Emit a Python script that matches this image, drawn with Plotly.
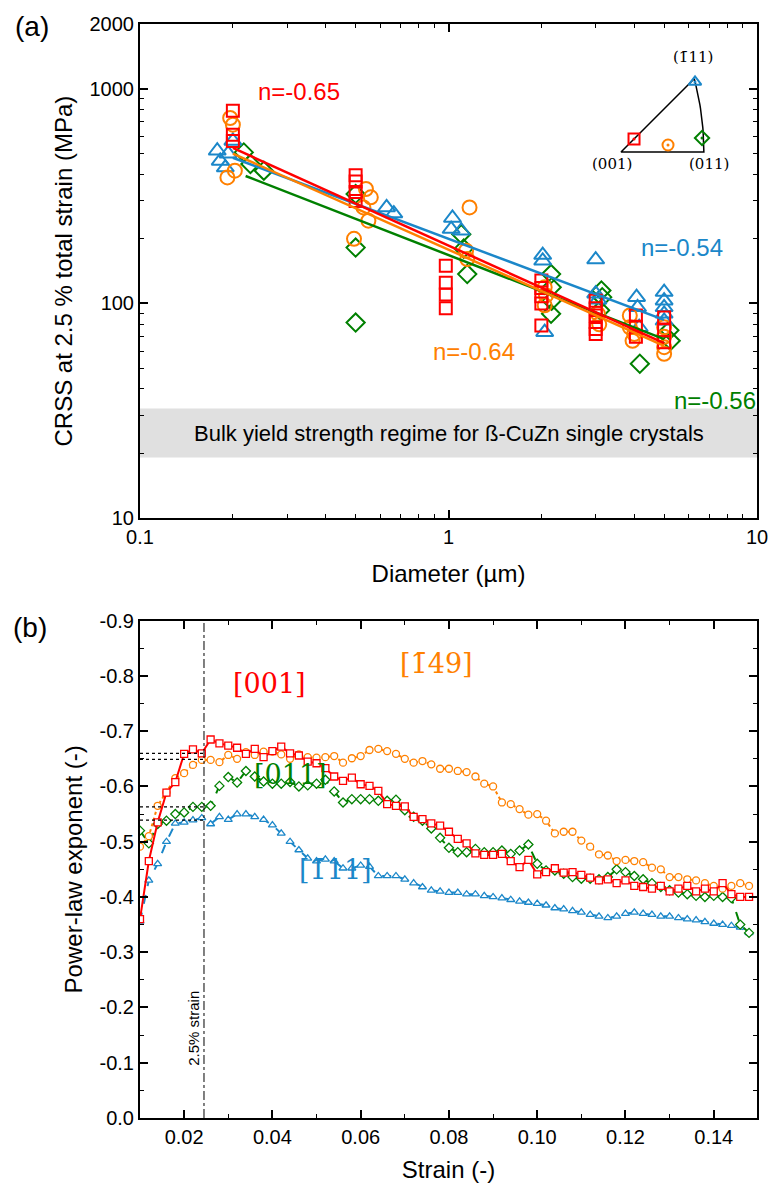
import math
import plotly.graph_objects as go

# ---------------- colours ----------------
RED = "#FF0000"
ORANGE = "#FF8000"
BLUE = "#1B87C9"
GREEN = "#008000"

# ---------------- panel (a): CRSS vs pillar diameter ----------------
d_001 = [0.2, 0.2, 0.2, 0.5, 0.5, 0.5, 0.5, 0.98, 0.98, 0.98, 0.98,
         2.0, 2.0, 2.0, 2.0, 2.0, 3.0, 3.0, 3.0, 3.0, 3.0, 3.0,
         4.05, 4.05, 4.05, 5.0, 5.0, 5.0]
crss_001 = [790, 610, 570, 395, 370, 330, 300, 150, 125, 110, 95,
            128, 118, 108, 100, 79, 103, 95, 88, 82, 76, 72,
            88, 78, 70, 86, 75, 66]

d_149 = [0.196, 0.2, 0.192, 0.203, 0.494, 0.54, 0.56, 0.53, 0.55,
         1.17, 1.14, 1.15, 2.05, 2.07, 2.05, 3.05, 3.08,
         3.87, 3.87, 4.0, 3.95, 5.0, 5.0, 5.0, 5.0]
crss_149 = [730, 680, 386, 415, 200, 341, 312, 280, 243,
            280, 176, 161, 119, 109, 98, 89.5, 80,
            88, 77.5, 72, 67, 77.5, 70, 62.6, 58.3]

d_111 = [0.178, 0.182, 0.189, 0.2, 0.193, 0.63, 0.665,
         1.03, 1.02, 1.1, 2.02, 2.02, 2.05, 3.0, 3.0, 3.05,
         4.07, 4.1, 4.15, 5.0, 5.0, 5.0, 5.0, 5.0]
crss_111 = [514, 461, 429, 571, 498, 280, 262,
            250, 222, 218, 168, 158, 73.5, 160, 111, 104,
            107, 96, 77.5, 113, 103, 96, 89.5, 83]

d_011 = [0.217, 0.228, 0.252, 0.5, 0.5, 0.5, 1.1, 1.12, 1.15,
         2.15, 2.16, 2.16, 2.15, 3.13, 3.15, 3.1, 4.17, 5.2, 5.25]
crss_011 = [505, 446, 415, 323, 182, 81.5, 210, 180, 137,
            137, 119, 103, 89.5, 115, 107, 93, 52.4, 75, 67]

# power-law fits  CRSS = A * d^n  (exponent, prefactor, diameter span)
fit_001 = (-0.65, 186, [0.2, 5.0])
fit_149 = (-0.64, 178, [0.2, 5.0])
fit_111 = (-0.54, 200, [0.2, 5.0])
fit_011 = (-0.56, 168, [0.22, 5.0])

# label positions (diameter, CRSS)
lab_001 = (0.327, 975)
lab_149 = (1.21, 60)
lab_111 = (5.7, 182)
lab_011 = (7.3, 35.4)

bulk_band = [19.2, 32.4]

# inverse pole figure inset (stereographic coordinates)
ipf_001 = (0.065, 0.065)
ipf_149 = (0.235, 0.035)
ipf_011 = (0.405, 0.07)
ipf_111 = (0.37, 0.35)

# ---------------- panel (b): power-law exponent vs strain ----------------
strain = [0.010, 0.012, 0.014, 0.016, 0.018, 0.020, 0.022, 0.024, 0.026, 0.028,
          0.030, 0.032, 0.034, 0.036, 0.038, 0.040, 0.042, 0.044, 0.046, 0.048,
          0.050, 0.052, 0.054, 0.056, 0.058, 0.060, 0.062, 0.064, 0.066, 0.068,
          0.070, 0.072, 0.074, 0.076, 0.078, 0.080, 0.082, 0.084, 0.086, 0.088,
          0.090, 0.092, 0.094, 0.096, 0.098, 0.100, 0.102, 0.104, 0.106, 0.108,
          0.110, 0.112, 0.114, 0.116, 0.118, 0.120, 0.122, 0.124, 0.126, 0.128,
          0.130, 0.132, 0.134, 0.136, 0.138, 0.140, 0.142, 0.144, 0.146, 0.148]

n_001 = [-0.360, -0.465, -0.535, -0.589, -0.608, -0.659, -0.667, -0.660, -0.685, -0.678,
         -0.674, -0.670, -0.659, -0.668, -0.653, -0.664, -0.672, -0.660, -0.656, -0.645,
         -0.642, -0.633, -0.618, -0.610, -0.616, -0.604, -0.601, -0.592, -0.568, -0.565,
         -0.564, -0.545, -0.541, -0.533, -0.529, -0.518, -0.505, -0.497, -0.479, -0.476,
         -0.476, -0.478, -0.465, -0.454, -0.467, -0.441, -0.445, -0.452, -0.444, -0.445,
         -0.440, -0.435, -0.430, -0.432, -0.425, -0.430, -0.420, -0.418, -0.415, -0.420,
         -0.410, -0.415, -0.420, -0.410, -0.415, -0.410, -0.425, -0.405, -0.400, -0.400]

n_149 = [-0.491, -0.510, -0.565, -0.589, -0.615, -0.624, -0.639, -0.648, -0.648, -0.644,
         -0.657, -0.650, -0.662, -0.657, -0.663, -0.663, -0.658, -0.650, -0.658, -0.653,
         -0.652, -0.653, -0.655, -0.643, -0.651, -0.655, -0.666, -0.668, -0.664, -0.659,
         -0.650, -0.643, -0.646, -0.640, -0.632, -0.632, -0.628, -0.626, -0.618, -0.605,
         -0.600, -0.571, -0.568, -0.559, -0.549, -0.550, -0.538, -0.515, -0.518, -0.518,
         -0.502, -0.491, -0.477, -0.475, -0.465, -0.467, -0.465, -0.463, -0.453, -0.450,
         -0.436, -0.436, -0.432, -0.430, -0.425, -0.420, -0.415, -0.420, -0.425, -0.420]

n_011 = [-0.520, -0.497, -0.532, -0.538, -0.550, -0.553, -0.563, -0.563, -0.565, -0.601,
         -0.617, -0.607, -0.628, -0.618, -0.609, -0.605, -0.605, -0.608, -0.600, -0.602,
         -0.605, -0.612, -0.591, -0.571, -0.577, -0.577, -0.577, -0.574, -0.574, -0.576,
         -0.557, -0.545, -0.538, -0.524, -0.507, -0.489, -0.481, -0.481, -0.487, -0.481,
         -0.481, -0.484, -0.478, -0.484, -0.495, -0.460, -0.448, -0.448, -0.442, -0.436,
         -0.433, -0.433, -0.432, -0.436, -0.450, -0.445, -0.438, -0.432, -0.425, -0.418,
         -0.412, -0.408, -0.405, -0.402, -0.400, -0.402, -0.400, -0.398, -0.350, -0.335]

n_111 = [-0.356, -0.430, -0.460, -0.500, -0.533, -0.535, -0.539, -0.543, -0.532, -0.545,
         -0.540, -0.550, -0.550, -0.545, -0.540, -0.530, -0.515, -0.500, -0.485, -0.470,
         -0.465, -0.468, -0.465, -0.452, -0.452, -0.457, -0.455, -0.438, -0.438, -0.438,
         -0.432, -0.425, -0.418, -0.412, -0.410, -0.408, -0.408, -0.405, -0.405, -0.402,
         -0.400, -0.398, -0.395, -0.392, -0.390, -0.388, -0.385, -0.380, -0.378, -0.375,
         -0.372, -0.368, -0.365, -0.362, -0.365, -0.370, -0.372, -0.370, -0.368, -0.365,
         -0.365, -0.362, -0.360, -0.358, -0.355, -0.352, -0.350, -0.348, -0.345, -0.335]

strain_mark = 0.0245
ref_levels = [-0.660, -0.649, -0.563, -0.539]

y_ticks_b = [-0.9, -0.8, -0.7, -0.6, -0.5, -0.4, -0.3, -0.2, -0.1, 0.0]
y_ticktext_b = ["-0.9", "-0.8", "-0.7", "-0.6", "-0.5", "-0.4", "-0.3", "-0.2", "-0.1", "0.0"]
x_ticks_b = [0.02, 0.04, 0.06, 0.08, 0.10, 0.12, 0.14]
x_ticktext_b = ["0.02", "0.04", "0.06", "0.08", "0.10", "0.12", "0.14"]

SANS = "Liberation Sans, Arial, sans-serif"
SERIF = "DejaVu Serif, serif"

fig = go.Figure()

# ---- panel (a) ----
fig.add_trace(go.Scatter(x=[0.1, 10, 10, 0.1], y=[bulk_band[0], bulk_band[0], bulk_band[1], bulk_band[1]],
                         fill="toself", fillcolor="#E0E0E0", line=dict(width=0), mode="lines",
                         hoverinfo="skip", xaxis="x", yaxis="y"))

sym_specs = [
    (d_011, crss_011, GREEN, "diamond-open", 14),
    (d_111, crss_111, BLUE, "triangle-up-open", 15),
    (d_149, crss_149, ORANGE, "circle-open", 14),
    (d_001, crss_001, RED, "square-open", 12),
]
for xs, ys, col, sym, sz in sym_specs:
    fig.add_trace(go.Scatter(x=xs, y=ys, mode="markers", xaxis="x", yaxis="y",
                             marker=dict(symbol=sym, size=sz, color=col, line=dict(width=2, color=col))))

for (n, A, span), col in [(fit_011, GREEN), (fit_111, BLUE), (fit_149, ORANGE), (fit_001, RED)]:
    fig.add_trace(go.Scatter(x=span, y=[A * d ** n for d in span], mode="lines", xaxis="x", yaxis="y",
                             line=dict(color=col, width=2.5)))

# inset: standard stereographic triangle
arc_s = [i / 20 for i in range(21)]
arc_x = [1 / (math.sqrt(s * s + 2) + 1) for s in arc_s]
arc_y = [s / (math.sqrt(s * s + 2) + 1) for s in arc_s]
tri_x = [arc_x[-1], 0.0, arc_x[0]] + arc_x
tri_y = [arc_y[-1], 0.0, arc_y[0]] + arc_y
fig.add_trace(go.Scatter(x=tri_x, y=tri_y, mode="lines", line=dict(color="black", width=1.5),
                         xaxis="x3", yaxis="y3"))
for pos, col, sym in [(ipf_001, RED, "square-open"), (ipf_149, ORANGE, "circle-open"),
                      (ipf_011, GREEN, "diamond-open"), (ipf_111, BLUE, "triangle-up-open")]:
    fig.add_trace(go.Scatter(x=[pos[0]], y=[pos[1]], mode="markers", xaxis="x3", yaxis="y3",
                             marker=dict(symbol=sym, size=11, color=col, line=dict(width=2, color=col))))
    fig.add_trace(go.Scatter(x=[pos[0]], y=[pos[1]], mode="markers", xaxis="x3", yaxis="y3",
                             marker=dict(symbol="circle", size=3, color=col)))

# ---- panel (b) ----
for lev in ref_levels:
    fig.add_shape(type="line", xref="x2", yref="y2", x0=0.01, x1=strain_mark, y0=lev, y1=lev,
                  line=dict(color="black", width=1.2, dash="dot"))
fig.add_shape(type="line", xref="x2", yref="y2", x0=strain_mark, x1=strain_mark, y0=0, y1=-0.9,
              line=dict(color="black", width=1, dash="dashdot"))

series_b = [
    (n_111, BLUE, "triangle-up", "dash"),
    (n_011, GREEN, "diamond", "dash"),
    (n_149, ORANGE, "circle", "dot"),
    (n_001, RED, "square", "solid"),
]
for ys, col, sym, dash in series_b:
    fig.add_trace(go.Scatter(x=strain, y=ys, mode="lines+markers", xaxis="x2", yaxis="y2",
                             line=dict(color=col, width=2, dash=dash),
                             marker=dict(symbol=sym, size=7, color="white", line=dict(color=col, width=1.3))))

axis_common = dict(showline=True, linewidth=2, linecolor="black", mirror="ticks", ticks="inside",
                   ticklen=8, tickwidth=1.5, tickcolor="black", showgrid=False, zeroline=False,
                   automargin=False, tickfont=dict(family=SANS, size=20, color="black"))

minor_x_a = [k * 10 ** e for e in (-1, 0) for k in range(2, 10)]
minor_y_a = [k * 10 ** e for e in (1, 2) for k in range(2, 10)]

fig.update_layout(
    width=769, height=1189,
    paper_bgcolor="white", plot_bgcolor="white",
    margin=dict(l=140, r=12, t=24, b=71),
    showlegend=False,
    xaxis=dict(type="log", range=[-1, 1], domain=[0, 1], anchor="y",
               tickvals=[0.1, 1, 10], ticktext=["0.1", "1", "10"],
               minor=dict(ticks="inside", ticklen=4, tickwidth=1.2, tickcolor="black", tickvals=minor_x_a),
               title=dict(text="Diameter (µm)", font=dict(family=SANS, size=24, color="black"), standoff=18),
               **axis_common),
    yaxis=dict(type="log", range=[1, math.log10(2000)], domain=[0.5482, 1], anchor="x",
               tickvals=[10, 100, 1000, 2000], ticktext=["10", "100", "1000", "2000"],
               minor=dict(ticks="inside", ticklen=4, tickwidth=1.2, tickcolor="black", tickvals=minor_y_a),
               title=dict(text="CRSS at 2.5 % total strain (MPa)", font=dict(family=SANS, size=24, color="black"),
                          standoff=10),
               **axis_common),
    xaxis2=dict(range=[0.01, 0.1498], domain=[0, 1], anchor="y2",
                tickvals=x_ticks_b, ticktext=x_ticktext_b,
                minor=dict(ticks="inside", ticklen=4, tickwidth=1.2, tickcolor="black", dtick=0.01, tick0=0.0),
                title=dict(text="Strain (-)", font=dict(family=SANS, size=24, color="black"), standoff=14),
                **axis_common),
    yaxis2=dict(range=[0, -0.9], domain=[0, 0.4546], anchor="x2",
                tickvals=y_ticks_b, ticktext=y_ticktext_b,
                minor=dict(ticks="inside", ticklen=4, tickwidth=1.2, tickcolor="black", dtick=0.05, tick0=0.0),
                title=dict(text="Power-law exponent (-)", font=dict(family=SANS, size=24, color="black"),
                           standoff=10),
                **axis_common),
    xaxis3=dict(range=[-0.1, 0.6], domain=[0.7472, 0.9741], anchor="y3", visible=False),
    yaxis3=dict(range=[-0.25, 0.55], domain=[0.8373, 0.9836], anchor="x3", visible=False),
)

ann = []
# panel tags
ann.append(dict(text="(a)", xref="paper", yref="paper", x=-0.175, y=0.998, xanchor="center", yanchor="middle",
                showarrow=False, font=dict(family=SANS, size=28, color="black")))
ann.append(dict(text="(b)", xref="paper", yref="paper", x=-0.178, y=0.4488, xanchor="center", yanchor="middle",
                showarrow=False, font=dict(family=SANS, size=28, color="black")))
# exponents
for (dx, cy), txt, col in [(lab_001, "n=-0.65", RED), (lab_149, "n=-0.64", ORANGE),
                           (lab_111, "n=-0.54", BLUE), (lab_011, "n=-0.56", GREEN)]:
    ann.append(dict(text=txt, xref="x", yref="y", x=math.log10(dx), y=math.log10(cy), showarrow=False,
                    xanchor="center", yanchor="middle", font=dict(family=SANS, size=24, color=col)))
ann.append(dict(text="Bulk yield strength regime for ß-CuZn single crystals", xref="x", yref="y",
                x=0, y=math.log10(math.sqrt(bulk_band[0] * bulk_band[1])), showarrow=False,
                xanchor="center", yanchor="middle", font=dict(family=SANS, size=22, color="black")))
# inset labels
for txt, px, py in [("(001)", -0.045, -0.06), ("(011)", 0.44, -0.06), ("(1\u030411)", 0.36, 0.475)]:
    ann.append(dict(text=txt, xref="x3", yref="y3", x=px, y=py, showarrow=False, xanchor="center",
                    yanchor="middle", font=dict(family=SERIF, size=15, color="black")))
# panel (b) direction labels
for txt, sx, sy, col in [("[001]", 0.0393, -0.787, RED), ("[1\u030449]", 0.0772, -0.823, ORANGE),
                         ("[011]", 0.044, -0.621, GREEN), ("[1\u030411]", 0.0544, -0.449, BLUE)]:
    ann.append(dict(text=txt, xref="x2", yref="y2", x=sx, y=sy, showarrow=False, xanchor="center",
                    yanchor="middle", font=dict(family=SERIF, size=27, color=col)))
ann.append(dict(text="2.5% strain", xref="x2", yref="y2", x=0.0222, y=-0.163, textangle=-90, showarrow=False,
                xanchor="center", yanchor="middle", font=dict(family=SANS, size=15, color="black")))

fig.update_layout(annotations=ann)

fig.write_html("out.html")
